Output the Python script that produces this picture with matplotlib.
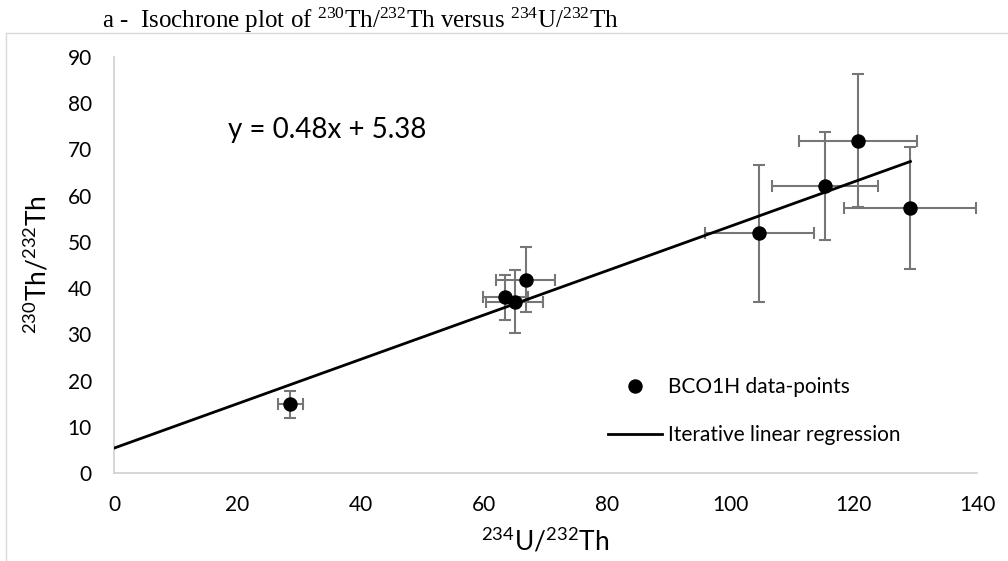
import matplotlib
matplotlib.use("Agg")
import matplotlib.pyplot as plt
from matplotlib.lines import Line2D
import numpy as np

# data
x_vals = [28.6, 63.5, 65.0, 66.8, 104.7, 115.4, 120.7, 129.2]
y_vals = [14.9, 38.0, 37.1, 41.8, 51.9, 62.1, 71.9, 57.4]
x_err = [2.0, 3.6, 4.6, 4.8, 8.8, 8.6, 9.6, 10.7]
y_err = [2.9, 4.9, 6.9, 7.0, 14.8, 11.6, 14.4, 13.2]
slope = 0.48
intercept = 5.38
x_ticks = [0, 20, 40, 60, 80, 100, 120, 140]
y_ticks = [0, 10, 20, 30, 40, 50, 60, 70, 80, 90]

sans = 'Lato'
W, H = 1008, 561

fig = plt.figure(figsize=(W / 100, H / 100), dpi=100)
ax = fig.add_axes([114 / W, 1 - 473 / H, (977 - 114) / W, (473 - 57) / H])

# chart frame (only top and left edges visible in the reference)
fig.add_artist(Line2D([6 / W, 1], [1 - 33 / H, 1 - 33 / H], color='#d9d9d9', lw=1))
fig.add_artist(Line2D([6 / W, 6 / W], [0, 1 - 33 / H], color='#d9d9d9', lw=1))

ax.errorbar(x_vals, y_vals, xerr=x_err, yerr=y_err, fmt='none',
            ecolor='#767676', elinewidth=1.5, capsize=4.3, capthick=1.5, zorder=2)
xl = np.array([0, max(x_vals)])
ax.plot(xl, slope * xl + intercept, color='black', lw=2, zorder=3,
        label='Iterative linear regression')
ax.plot(x_vals, y_vals, 'o', color='black', markersize=9.4, zorder=4,
        label='BCO1H data-points')

ax.set_xlim(0, 140)
ax.set_ylim(0, 90)
ax.set_xticks(x_ticks)
ax.set_yticks(y_ticks)
ax.tick_params(length=0, labelsize=15)
ax.tick_params(axis='x', pad=16)
ax.tick_params(axis='y', pad=16)
for lab in ax.get_xticklabels() + ax.get_yticklabels():
    lab.set_family(sans)
for s in ['top', 'right']:
    ax.spines[s].set_visible(False)
for s in ['left', 'bottom']:
    ax.spines[s].set_color('#d0d0d0')
    ax.spines[s].set_linewidth(1.2)

ax.set_xlabel(r'$\mathregular{^{234}U/^{232}Th}$', fontsize=19, family=sans)
ax.xaxis.set_label_coords(0.5, (473 - 527) / 416)
ax.set_ylabel(r'$\mathregular{^{230}Th/^{232}Th}$', fontsize=19, family=sans)
ax.yaxis.set_label_coords((52 - 114) / 863, 0.5)

ax.text(18.5, 74.2, 'y = 0.48x + 5.38', fontsize=20, family=sans, va='center')

handles, labels = ax.get_legend_handles_labels()
ax.legend(handles[::-1], labels[::-1], frameon=False, loc='upper left',
          bbox_to_anchor=(608 / W, 1 - 377 / H), bbox_transform=fig.transFigure,
          borderpad=0, borderaxespad=0, handlelength=2.6, handletextpad=0.3,
          labelspacing=1.35, prop={'family': sans, 'size': 15})

fig.text(102 / W, 1 - 28 / H,
         r'a -  Isochrone plot of $\mathregular{^{230}Th/^{232}Th}$ versus $\mathregular{^{234}U/^{232}Th}$',
         family='Liberation Serif', fontsize=18, va='baseline', ha='left')

fig.savefig('out.png', dpi=100)
